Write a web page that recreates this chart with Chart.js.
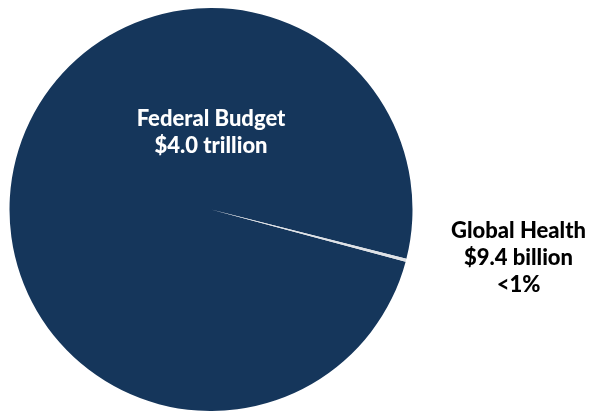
<!DOCTYPE html>
<html lang="en">
  <head>
    <meta charset="UTF-8" />
    <title>Federal Budget vs Global Health</title>
    <script src="https://cdn.jsdelivr.net/npm/chart.js"></script>
    <style>
      html, body { margin: 0; padding: 0; background: #fff; }
      #wrap { width: 590px; height: 411px; }
    </style>
  </head>
  <body>
    <div id="wrap"><canvas id="budgetChart"></canvas></div>

    <script>
      const categories = ["Federal Budget", "Global Health"];
      const amounts = [4000, 9.4]; // billions of USD
      const amountLabels = ["$4.0 trillion", "$9.4 billion"];
      const shareLabels = ["", "<1%"];
      const colors = ["#15365b", "#dfe2e6"];

      const FONT = "900 22px Lato, 'Open Sans', sans-serif";

      // draws the text labels next to the slices
      const labelPlugin = {
        id: "sliceLabels",
        afterDatasetsDraw(chart) {
          const ctx = chart.ctx;
          const arc = chart.getDatasetMeta(0).data[0];
          const cx = arc.x;
          const cy = arc.y;
          const r = arc.outerRadius;
          ctx.save();
          ctx.font = FONT;
          ctx.textAlign = "center";
          ctx.textBaseline = "middle";

          ctx.fillStyle = "#ffffff";
          ctx.fillText(categories[0], cx, cy - r * 0.45);
          ctx.fillText(amountLabels[0], cx, cy - r * 0.45 + 27);

          ctx.fillStyle = "#000000";
          const gx = cx + r + 106;
          const gy = cy + 21;
          ctx.fillText(categories[1], gx, gy);
          ctx.fillText(amountLabels[1], gx, gy + 27);
          ctx.fillText(shareLabels[1], gx, gy + 54);
          ctx.restore();
        },
      };

      const ctx = document.getElementById("budgetChart").getContext("2d");
      new Chart(ctx, {
        type: "pie",
        data: {
          labels: categories,
          datasets: [
            {
              data: amounts,
              backgroundColor: colors,
              borderWidth: 0,
            },
          ],
        },
        options: {
          responsive: true,
          maintainAspectRatio: false,
          animation: false,
          rotation: 105,
          layout: { padding: { left: 9, right: 177, top: 8, bottom: 0 } },
          plugins: {
            legend: { display: false },
            tooltip: { enabled: false },
          },
        },
        plugins: [labelPlugin],
      });
    </script>
  </body>
</html>
